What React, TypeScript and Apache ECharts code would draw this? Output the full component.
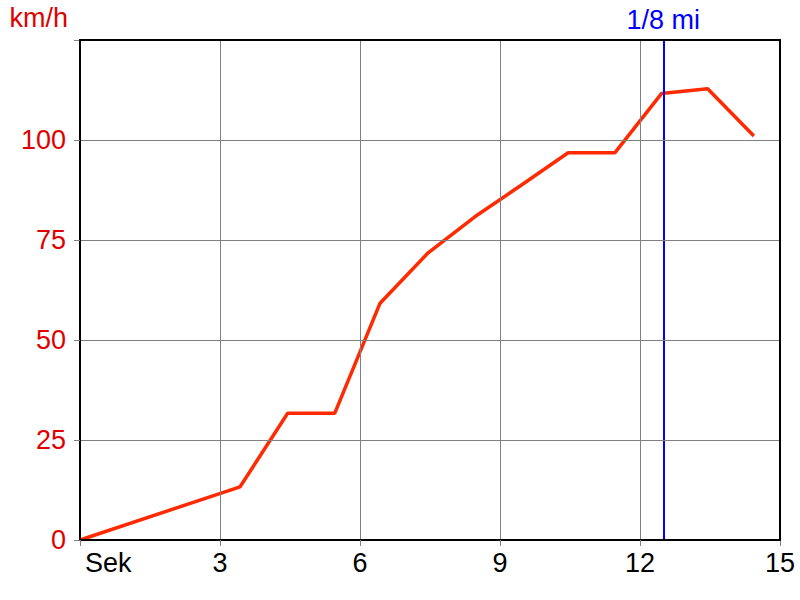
import React, { useEffect, useRef } from "react";
import * as echarts from "echarts";

const seconds = [0, 3.43, 4.45, 5.46, 6.43, 7.46, 8.46, 9.43, 10.46, 11.46, 12.46, 13.45, 14.44];
const speeds = [0, 13.3, 31.7, 31.7, 59.2, 71.8, 80.8, 88.5, 96.8, 96.8, 111.6, 112.8, 101];
const eighthMile = 12.5;
const xTicks = [0, 3, 6, 9, 12, 15];
const yTicks = [0, 25, 50, 75, 100, 125];

const RED = "#e00000";
const FONT = "Liberation Sans, Arial, sans-serif";
const FS = 27;

export default function App() {
  const ref = useRef<HTMLDivElement>(null);
  useEffect(() => {
    if (!ref.current) return;
    const chart = echarts.init(ref.current, undefined, { renderer: "svg" });
    const data = seconds.map((s, i) => [s, speeds[i]]);
    chart.setOption({
      animation: false,
      backgroundColor: "#ffffff",
      grid: { left: 80, right: 20, top: 40, bottom: 60 },
      xAxis: [
        {
          type: "value",
          min: xTicks[0],
          max: xTicks[xTicks.length - 1],
          interval: 3,
          z: 5,
          axisLine: { show: true, onZero: false, lineStyle: { color: "#000", width: 2 } },
          axisTick: { show: true, length: 6, lineStyle: { color: "#808080" } },
          splitLine: { show: true, lineStyle: { color: "#808080", width: 1 } },
          axisLabel: {
            color: "#000",
            fontSize: FS,
            fontFamily: FONT,
            margin: 9,
            alignMinLabel: "left",
            formatter: (v: number) => (v === 0 ? "{s|Sek}" : String(v)),
            rich: { s: { color: "#000", fontSize: FS, fontFamily: FONT, padding: [0, 0, 0, 5] } },
          },
        },
        {
          type: "value",
          position: "top",
          min: xTicks[0],
          max: xTicks[xTicks.length - 1],
          interval: 3,
          z: 10,
          axisLine: { show: true, onZero: false, lineStyle: { color: "#000", width: 2 } },
          axisTick: { show: false },
          axisLabel: { show: false },
          splitLine: { show: false },
        },
      ],
      yAxis: [
        {
          type: "value",
          min: yTicks[0],
          max: yTicks[yTicks.length - 1],
          interval: 25,
          z: 5,
          name: "km/h",
          nameLocation: "end",
          nameGap: 9,
          nameTextStyle: { color: RED, fontSize: FS, fontFamily: FONT, align: "right", padding: [0, 12, 0, 0] },
          axisLine: { show: true, onZero: false, lineStyle: { color: "#000", width: 2 } },
          axisTick: { show: true, length: 6, lineStyle: { color: "#808080" } },
          splitLine: { show: true, lineStyle: { color: "#808080", width: 1 } },
          axisLabel: {
            color: RED,
            fontSize: FS,
            fontFamily: FONT,
            margin: 14,
            formatter: (v: number) => (v === 125 ? "" : String(v)),
          },
        },
        {
          type: "value",
          position: "right",
          min: yTicks[0],
          max: yTicks[yTicks.length - 1],
          interval: 25,
          z: 10,
          axisLine: { show: true, onZero: false, lineStyle: { color: "#000", width: 2 } },
          axisTick: { show: false },
          axisLabel: { show: false },
          splitLine: { show: false },
        },
      ],
      series: [
        {
          type: "line",
          data,
          xAxisIndex: 0,
          yAxisIndex: 0,
          symbol: "none",
          lineStyle: { color: "#ff2a00", width: 3.5 },
          z: 3,
          markLine: {
            silent: true,
            symbol: "none",
            lineStyle: { color: "#0000ff", width: 2, type: "solid" },
            label: {
              show: true,
              position: "end",
              formatter: "1/8 mi",
              color: "#0000ff",
              fontSize: FS,
              fontFamily: FONT,
              distance: 7,
            },
            data: [{ xAxis: eighthMile }],
            z: 4,
          },
        },
      ],
    });
    return () => chart.dispose();
  }, []);
  return (
    <div
      ref={ref}
      style={{ position: "fixed", left: 0, top: 0, width: 800, height: 600 }}
    />
  );
}
